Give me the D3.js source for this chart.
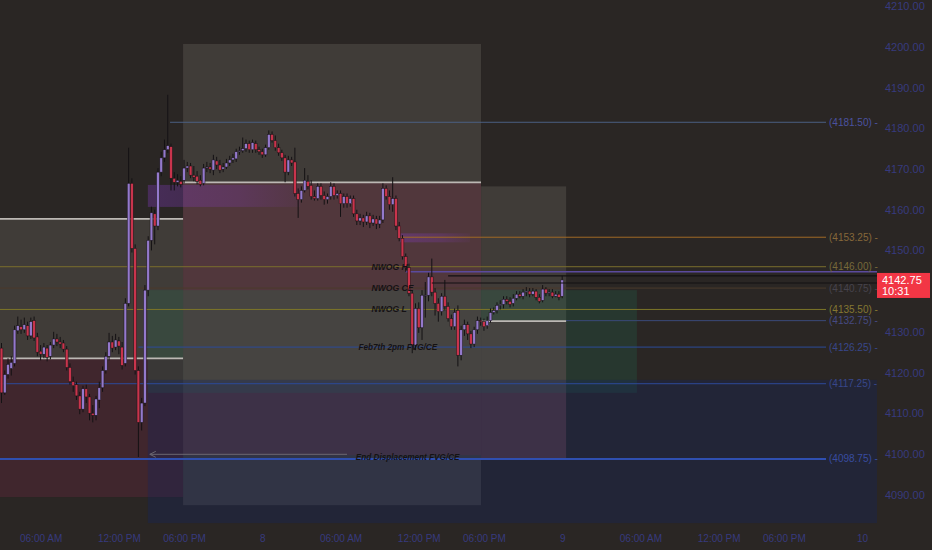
<!DOCTYPE html>
<html><head><meta charset="utf-8">
<script src="https://cdn.jsdelivr.net/npm/d3@7"></script>
<style>
html,body{margin:0;padding:0;background:#2a2624;}
svg{display:block;}
</style></head>
<body>
<svg id="c" width="932" height="550"></svg>
<script>
// ---- data: 15-minute bars (index 0 = Feb 7 03:00) ----
const opens = [4126,4115,4119.5,4121,4122.25,4130.25,4131.25,4130.5,4131.5,4129,4132.75,4128.75,4125.25,4124.5,4126,4124,4126.75,4128.25,4127.5,4127.25,
4125.75,4121.25,4117.75,4117,4114.25,4111,4116,4114,4110,4109.5,4113.25,4116.25,4120.5,4124,4127.5,4126.25,4127.75,4126.25,4122.25,4137,
4166.5,4150.5,4120.5,4107.75,4112.5,4140.25,4152.5,4159,4156,4169.25,4172.75,4174.75,4175.5,4167.75,4166.75,4167,4167.25,4170.25,4170.75,4168.5,
4168.25,4167.25,4166.5,4170.25,4170.5,4169.75,4172,4171,4170,4170.5,4171.5,4172.25,4172.5,4174.25,4174.5,4175,4176.25,4174.75,4176.25,4174.75,
4174.25,4173.5,4175.25,4178.5,4177,4175.25,4174,4172.75,4169.25,4172.25,4171.75,4164,4162.5,4164.75,4167,4166,4163.25,4162.75,4165.75,4163.5,
4162.5,4163.25,4165.75,4163.5,4164,4161.5,4163.25,4161.5,4162.75,4159,4157.25,4158,4157,4158.5,4156.75,4157.75,4156.5,4157.5,4165.25,4163.25,
4161.25,4162.75,4156,4153,4148.5,4145.75,4139.5,4126.75,4135.75,4131,4139,4139,4143.5,4139.75,4137,4135,4138.75,4136.25,4133.25,4131.25,
4135.25,4124.25,4130.5,4131.75,4129.5,4127,4130.5,4132.75,4132.5,4131.5,4132.75,4134.75,4135.25,4136.5,4136.75,4138,4137.5,4137,4138.25,4139.25,
4138.75,4139.75,4140,4139.25,4140,4138.5,4137.75,4140.5,4139.5,4139.75,4138.75,4139.25,4138.75];
const highs = [4127.25,4120.5,4123.5,4124,4131.5,4133.75,4133,4133.5,4132.5,4133.5,4133.75,4129.75,4126.75,4127.25,4126.75,4127.5,4130,4129.5,4128.75,4128,
4126.5,4122.25,4119,4117.75,4115.25,4116.75,4117,4114.75,4112,4114.25,4117.75,4121.5,4125,4129.75,4129,4129.5,4128.75,4127.5,4138.25,4175.25,
4167.75,4151.5,4121.5,4113.75,4141.5,4153.5,4160.75,4160,4170.25,4174.25,4177.25,4188.25,4176.25,4169.25,4168.75,4168.25,4172.25,4171.75,4171.5,4170.75,
4169.5,4168.5,4171.25,4171.75,4171.5,4173.5,4173,4172.25,4171.5,4172.5,4173.25,4173.75,4175,4175.5,4177.75,4177.25,4177,4177.25,4177,4175.5,
4175,4176,4179.5,4179.25,4178.25,4176.25,4174.75,4173.5,4173.25,4173,4175.25,4165.25,4165.75,4170.25,4168.5,4167.25,4164.75,4166.5,4166.5,4164.5,
4164,4166.75,4166.5,4164.75,4164.75,4164,4164,4163.5,4163.5,4160,4159,4158.75,4159.5,4159.25,4158.75,4158.5,4158.5,4166.5,4166,4164.75,
4168,4163.5,4157,4153.75,4149.25,4146.75,4140.25,4137,4137.25,4140.25,4142.25,4144.5,4148,4140.75,4138.25,4139.5,4142.75,4137.25,4134.25,4135.75,
4136.5,4131.5,4133,4132.5,4130.25,4131.25,4133.75,4133.5,4133.25,4133.75,4135.75,4136,4137.25,4137.75,4138.75,4138.75,4138.5,4139.25,4140,4140,
4140.5,4141,4140.75,4140.75,4140.5,4139.25,4141.5,4141,4140.5,4140.5,4140,4140,4143.75];
const lows = [4112.5,4114.5,4118.5,4119.25,4121.5,4129.5,4129.5,4129.75,4128,4128.25,4127.75,4124,4123,4123.5,4122.75,4123.25,4126,4126.5,4126,4125,
4120.5,4117,4115.25,4113.25,4109.75,4110.25,4112.5,4108.25,4107.75,4108.25,4111.25,4115.25,4119.75,4123,4125,4125.5,4124.5,4120.75,4121.5,4136.25,
4149.5,4119.5,4099.25,4105.75,4111.75,4138.75,4150,4151.5,4155,4168.25,4171.75,4174,4164.75,4164.75,4165.75,4165.5,4166.5,4169.25,4167.75,4167,
4166.25,4165.75,4166,4169.25,4169,4168.5,4170,4169,4169.25,4170,4170.75,4171.5,4171.75,4173.5,4174,4174.25,4174,4174,4174,4173.5,
4172.75,4173,4174.75,4176.5,4174.5,4173.25,4172,4166.75,4168.5,4170.75,4163.25,4158,4161.75,4164.25,4165,4162.5,4162.25,4162.25,4162.5,4161.25,
4161.5,4162.5,4162.5,4162.75,4158.25,4160.5,4160.5,4160.75,4158.25,4156.25,4156.25,4155.75,4156.25,4155.5,4156,4155.25,4155.5,4156.75,4162.5,4160,
4159.5,4155,4152.25,4147.75,4144.75,4138.75,4124.75,4125.5,4129.75,4128,4133.5,4137.5,4138.75,4134,4132.5,4134,4135.25,4132.5,4130.5,4130.5,
4121.5,4123,4129,4128,4126,4126.25,4129.5,4131.5,4130.25,4130.75,4132.25,4134.25,4134.5,4135.5,4135.75,4136.75,4136,4136.25,4137.75,4138.25,
4138,4138.75,4138.5,4138.75,4137.75,4137,4137.25,4138.75,4138.75,4138.25,4138.5,4137.75,4138.25];
const closes = [4115,4119.5,4122,4122.5,4130.5,4131.5,4130.5,4131.75,4129,4132.5,4128.5,4125,4124.5,4126.25,4123.75,4126.75,4128.25,4127.5,4127,4125.75,
4121.25,4117.75,4116.75,4114.25,4111,4116,4114,4110,4109.5,4113.5,4116.25,4120.5,4124,4127.5,4126,4128,4126.5,4121.75,4137,4166.5,
4150.5,4120.5,4107.75,4112.5,4140.25,4152.5,4159.25,4156,4169.25,4172.75,4174.75,4175.75,4167.75,4166.75,4167.25,4166.25,4170.25,4170.75,4168.5,4168,
4167,4166.25,4170.25,4170.5,4170,4172.25,4171,4169.75,4170.5,4171.5,4172.25,4172.75,4174.25,4174.5,4175,4176.25,4174.75,4176.5,4174.75,4174.25,
4173.5,4175.25,4178.5,4177,4175.25,4174,4172.75,4169.25,4172.25,4171.5,4164,4162.5,4164.75,4167.25,4165.75,4163.25,4162.75,4165.75,4163.5,4162.5,
4163.25,4165.75,4163.5,4164,4161.5,4163.25,4161.5,4162.75,4159,4157.25,4158,4157,4158.5,4156.75,4157.75,4156.5,4157.5,4165.25,4163.25,4161.25,
4162.75,4156,4153,4148.5,4145.75,4139.5,4126.75,4135.75,4131,4139,4139,4143.5,4139.75,4137,4135,4138.75,4136.25,4133.25,4131.25,4134.75,
4124.25,4130.5,4131.75,4129.5,4127,4130.5,4132.75,4132.5,4131.25,4132.75,4134.75,4135.25,4136.5,4136.75,4138,4137.5,4136.75,4138.25,4139.25,4138.75,
4139.75,4140,4139.25,4140,4138.5,4137.5,4140.5,4139.5,4139.75,4138.75,4139.25,4138.5,4142.75];

// time axis
const timeTickIdx = [12,36,56,80,104,128,148,172,196,220,240,264];
const timeTickLabels = ["06:00 AM","12:00 PM","06:00 PM","8","06:00 AM","12:00 PM","06:00 PM","9","06:00 AM","12:00 PM","06:00 PM","10"];
const priceTicks = [4090,4100,4110,4120,4130,4150,4160,4170,4180,4190,4200,4210];

// zones: [startIdx, endIdx, priceTop, priceBottom, kind]
const zones = [
  [-2, 55.7, 4157.75, 4123.5, "gray"],
  [-2, 55.7, 4123.5, 4089.4, "red"],
  [55.7, 147.1, 4200.75, 4087.4, "gray"],
  [55.7, 147.1, 4166.75, 4099.7, "red"],
  [147.1, 173.2, 4165.75, 4098.75, "gray"],
  [147.1, 173.2, 4132.65, 4098.75, "red"],
  [44.9, 194.9, 4140.25, 4115.0, "green"],
  [44.9, 268.6, 4118.2, 4083.0, "blue"],
  [44.9, 91.6, 4166.1, 4160.7, "purple"],
  [122.2, 143.7, 4154.2, 4152.0, "purple"]
];
// levels: [price, startIdx, kind, label]
const levels = [
  [4181.50, 51.7, "steel", "(4181.50)"],
  [4153.25, 122.0, "orange", "(4153.25)"],
  [4146.00, -2, "olive", "(4146.00)"],
  [4140.75, -2, "brown", "(4140.75)"],
  [4135.50, -2, "yellow", "(4135.50)"],
  [4132.75, 173.2, "blueDim", "(4132.75)"],
  [4126.25, 42.0, "blue", "(4126.25)"],
  [4117.25, -2, "blue", "(4117.25)"],
  [4098.75, -2, "blueBold", "(4098.75)"]
];
// range edges (light lines): [price, startIdx, endIdx]
const edges = [
  [4157.75, -2, 55.7],
  [4123.5, -2, 55.7],
  [4166.75, 55.7, 147.1],
  [4132.65, 147.1, 173.2]
];
// thin reference lines near the open gap: [price, startIdx, kind]
const gapLines = [[4144.75, 124, "purple"], [4143.75, 137, "dark"], [4142.0, 132, "dark"]];
const notes = [
  ["NWOG H", 4146.00, 113.5],
  ["NWOG CE", 4140.75, 113.5],
  ["NWOG L", 4135.50, 113.5],
  ["Feb7th 2pm FVG/CE", 4126.25, 109.5],
  ["End Displacement FVG/CE", 4099.25, 108.7]
];
const lastPrice = 4142.75, countdown = "10:31";

// ---- drawing ----
const W = 932, H = 550;
const svg = d3.select("#c");
const x = d3.scaleLinear().domain([0, 264]).range([1.5, 862.1]);
const y = d3.scaleLinear().domain([4090, 4210]).range([494.6, 6.3]);
const plotR = 877, plotB = 527;
const FONT = "Liberation Sans, Arial, sans-serif";

svg.append("rect").attr("width", W).attr("height", H).attr("fill", "#2a2624");
const defs = svg.append("defs");
defs.append("clipPath").attr("id","pc").append("rect").attr("width",plotR).attr("height",plotB);
const pg = defs.append("linearGradient").attr("id","pgrad").attr("x1",0).attr("x2",1).attr("y1",0).attr("y2",0);
pg.append("stop").attr("offset","0%").attr("stop-color","rgb(140,60,210)").attr("stop-opacity",0.30);
pg.append("stop").attr("offset","60%").attr("stop-color","rgb(140,60,210)").attr("stop-opacity",0.20);
pg.append("stop").attr("offset","100%").attr("stop-color","rgb(140,60,210)").attr("stop-opacity",0.05);
const plot = svg.append("g").attr("clip-path","url(#pc)");

const zoneFill = {gray:"rgba(140,133,126,0.23)", red:"rgba(140,40,75,0.24)", green:"rgba(30,120,85,0.22)", blue:"rgba(15,35,100,0.30)", purple:"url(#pgrad)"};
plot.selectAll("rect.zone").data(zones).join("rect").attr("class","zone")
  .attr("x", d => x(d[0])).attr("width", d => x(d[1]) - x(d[0]))
  .attr("y", d => y(d[2])).attr("height", d => y(d[3]) - y(d[2]))
  .attr("fill", d => zoneFill[d[4]]);

const lvlColor = {steel:"#4b5f82", orange:"#a06a24", olive:"#7a6f2c", brown:"#4a3a2c", yellow:"#7d7528", blueDim:"#3a4a7a", blue:"#2c4a9a", blueBold:"#2f4fb0"};
const lblColor = {steel:"#4a52a0", orange:"#86683a", olive:"#76693a", brown:"#46434c", yellow:"#857832", blueDim:"#464a82", blue:"#38478a", blueBold:"#384ca0"};
plot.selectAll("line.lvl").data(levels).join("line").attr("class","lvl")
  .attr("x1", d => x(d[1])).attr("x2", 826)
  .attr("y1", d => y(d[0])).attr("y2", d => y(d[0]))
  .attr("stroke", d => lvlColor[d[2]]).attr("stroke-width", d => d[2]==="blueBold"?2:1);
svg.selectAll("text.lvl").data(levels).join("text").attr("class","lvl")
  .attr("x", 829).attr("y", d => y(d[0]) + 3.5)
  .attr("fill", d => lblColor[d[2]]).attr("font-family",FONT).attr("font-size", 10)
  .text(d => d[3] + " -");

plot.selectAll("line.edge").data(edges).join("line").attr("class","edge")
  .attr("x1", d => x(d[1])).attr("x2", d => x(d[2]))
  .attr("y1", d => y(d[0])).attr("y2", d => y(d[0]))
  .attr("stroke", "#bcb8b4").attr("stroke-width", 1.7);

// purple gap line (under candles)
plot.selectAll("line.gapP").data(gapLines.filter(d => d[2]==="purple")).join("line").attr("class","gapP")
  .attr("x1", d => x(d[1])).attr("x2", plotR).attr("y1", d => y(d[0])).attr("y2", d => y(d[0]))
  .attr("stroke","#5b4a9e").attr("stroke-width",1.4);

// candles
const bars = closes.map((c,i) => ({i, o:opens[i], h:highs[i], l:lows[i], c}));
const cg = plot.append("g");
cg.selectAll("line").data(bars).join("line")
  .attr("x1", d => x(d.i)).attr("x2", d => x(d.i))
  .attr("y1", d => y(d.h)).attr("y2", d => y(d.l))
  .attr("stroke", "#141214").attr("stroke-width", 1);
cg.selectAll("rect").data(bars).join("rect")
  .attr("x", d => x(d.i) - 1.4).attr("width", 2.8)
  .attr("y", d => y(Math.max(d.o,d.c)))
  .attr("height", d => Math.max(0.8, Math.abs(y(d.o) - y(d.c))))
  .attr("fill", d => d.c >= d.o ? "#9479cc" : "#c9344c")
  .attr("stroke", "#1a1618").attr("stroke-width", 0.5);

// dark gap lines
plot.selectAll("line.gapD").data(gapLines.filter(d => d[2]==="dark")).join("line").attr("class","gapD")
  .attr("x1", d => x(d[1])).attr("x2", plotR).attr("y1", d => y(d[0])).attr("y2", d => y(d[0]))
  .attr("stroke","#121012").attr("stroke-width",1.2);

// arrow for displacement
const ay = y(4099.9);
plot.append("line").attr("x1", x(45.5)).attr("x2", x(106)).attr("y1", ay).attr("y2", ay).attr("stroke","#6a6670").attr("stroke-width",1);
plot.append("path").attr("d", `M${x(45.5)+6},${ay-3} L${x(45.5)},${ay} L${x(45.5)+6},${ay+3}`).attr("fill","none").attr("stroke","#6a6670");

// notes
svg.selectAll("text.note").data(notes).join("text").attr("class","note")
  .attr("x", d => x(d[2])).attr("y", d => y(d[1]) + 3)
  .attr("fill","#151214").attr("font-family",FONT).attr("font-size",d => d[0].length > 16 ? 8.2 : 8.6)
  .attr("font-style","italic").attr("font-weight","bold").text(d => d[0]);

// axes
const ya = d3.axisRight(y).tickValues(priceTicks).tickSize(0).tickPadding(0).tickFormat(d3.format(".2f"));
const yg = svg.append("g").attr("transform","translate(885,0)").call(ya);
yg.select(".domain").remove();
yg.selectAll("text").attr("fill","#373a7e").attr("font-family",FONT).attr("font-size",11);

const xa = d3.axisBottom(x).tickValues(timeTickIdx).tickSize(0).tickPadding(0).tickFormat((d,k) => timeTickLabels[k]);
const xg = svg.append("g").attr("transform","translate(0,535)").call(xa);
xg.select(".domain").remove();
xg.selectAll("text").attr("fill","#373a7e").attr("font-family",FONT).attr("font-size",10);

// last price tag
const tag = svg.append("g");
tag.append("rect").attr("x",877).attr("y",y(lastPrice)-7).attr("width",53).attr("height",25).attr("fill","#f23645");
tag.append("text").attr("x",882).attr("y",y(lastPrice)+4.5).attr("fill","#ffffff").attr("font-family",FONT).attr("font-size",11).text(d3.format(".2f")(lastPrice));
tag.append("text").attr("x",882).attr("y",y(lastPrice)+15.5).attr("fill","#ffffff").attr("font-family",FONT).attr("font-size",11).text(countdown);
</script>
</body></html>
